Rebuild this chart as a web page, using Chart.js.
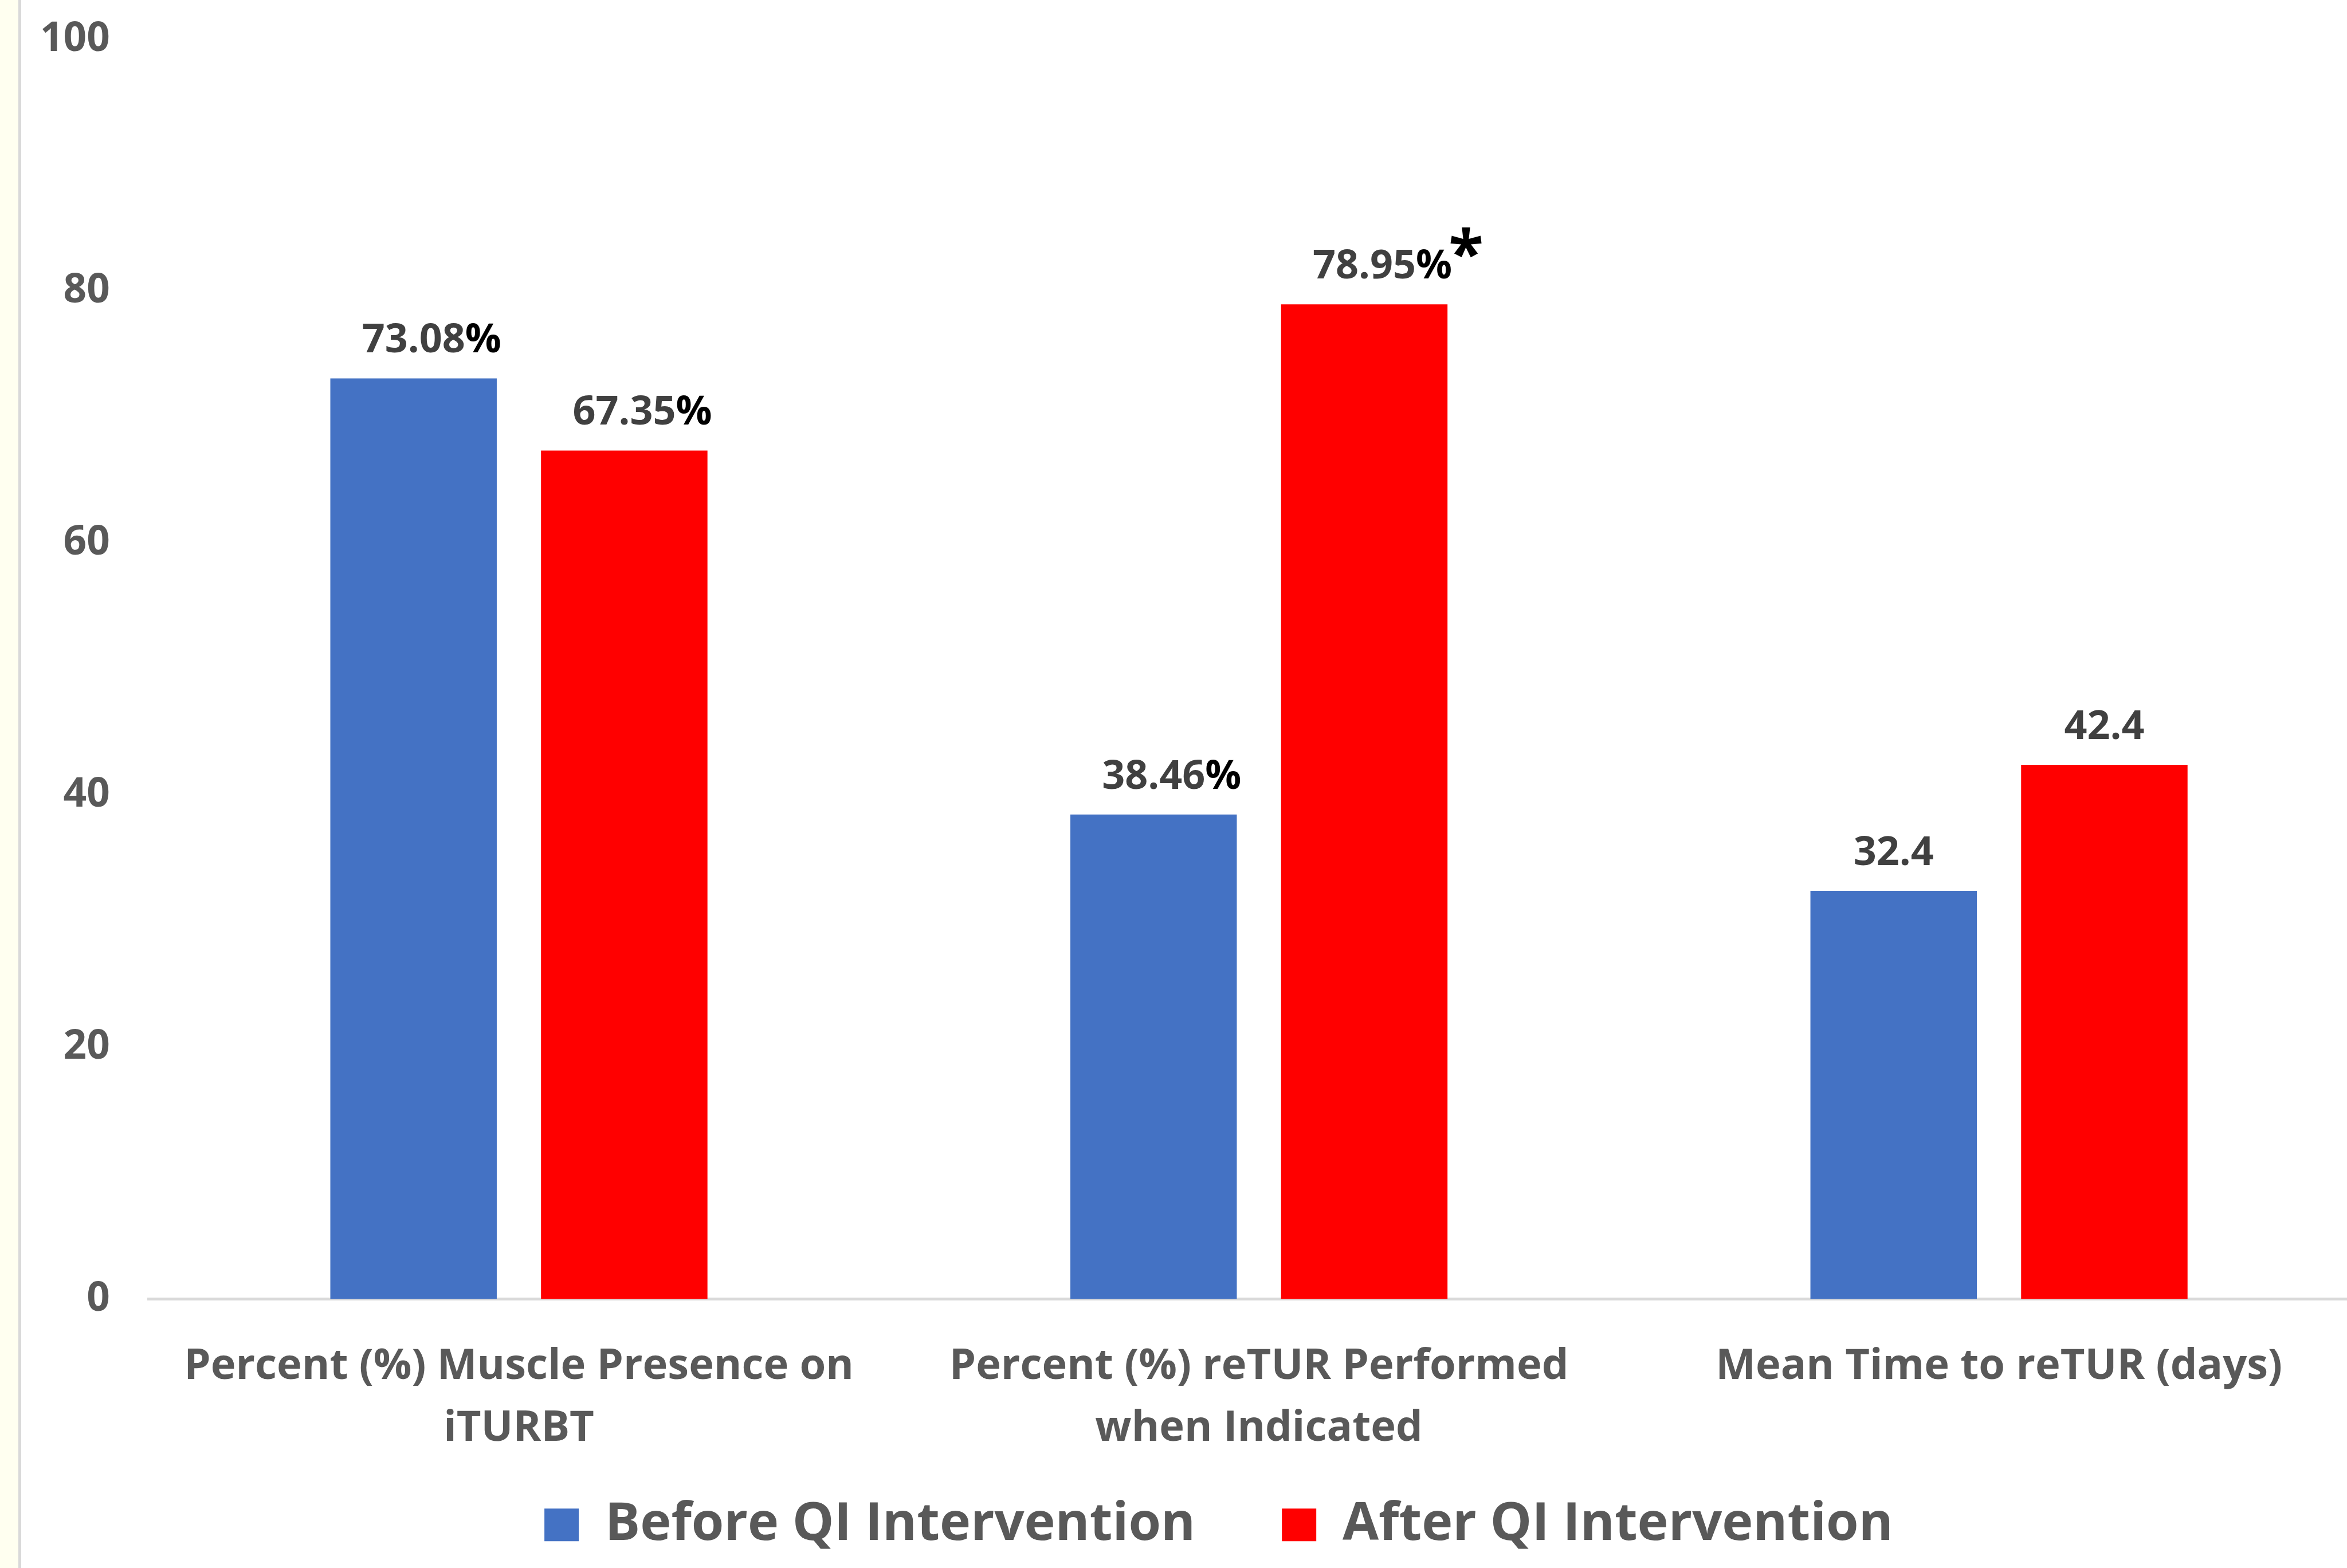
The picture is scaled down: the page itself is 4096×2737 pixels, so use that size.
<!DOCTYPE html>
<html>
<head>
<meta charset="utf-8">
<script src="https://cdn.jsdelivr.net/npm/chart.js@4.4.1/dist/chart.umd.min.js"></script>
<style>
  html, body { margin: 0; padding: 0; background: #ffffff; overflow: hidden; width: 4096px; height: 2737px; }
  #edge { position: absolute; left: 0; top: 0; width: 32px; height: 2737px; background: #FFFFF0; border-right: 5px solid #D9D9D9; }
  #wrap { position: absolute; left: 0; top: 0; }
</style>
</head>
<body>
<div id="edge"></div>
<div id="wrap"><canvas id="chart" width="4135" height="2737"></canvas></div>
<script>
// Categories (multi-line axis labels)
const categories = [
  ['Percent (%) Muscle Presence on', 'iTURBT'],
  ['Percent (%) reTUR Performed', 'when Indicated'],
  'Mean Time to reTUR (days)'
];
const seriesNames = ['Before QI Intervention', 'After QI Intervention'];
const beforeValues = [73.08, 38.46, 32.4];
const afterValues = [67.35, 78.95, 42.4];
// unit appended to each category's value label
const valueUnits = ['%', '%', ''];
// significance markers after a value label
const beforeMarks = ['', '', ''];
const afterMarks = ['', '*', ''];
const yTicks = [0, 20, 40, 60, 80, 100];

const FONT = '"Open Sans", "Noto Sans", sans-serif';

// value labels above each bar: number centred on the bar, unit and marker after it
const valueLabels = {
  id: 'valueLabels',
  afterDatasetsDraw(chart) {
    const ctx = chart.ctx;
    chart.data.datasets.forEach((ds, di) => {
      const meta = chart.getDatasetMeta(di);
      meta.data.forEach((bar, i) => {
        const num = String(ds.data[i]);
        const unit = valueUnits[i];
        const mark = ds.marks[i];
        ctx.save();
        ctx.font = 'bold 70px ' + FONT;
        ctx.textBaseline = 'middle';
        const w = ctx.measureText(num).width;
        const y = bar.y - 65;
        ctx.fillStyle = '#404040';
        ctx.textAlign = 'center';
        ctx.fillText(num, bar.x, y);
        ctx.textAlign = 'left';
        ctx.fillStyle = '#000000';
        ctx.fillText(unit, bar.x + w / 2, y);
        if (mark) {
          const uw = ctx.measureText(unit).width;
          ctx.font = 'bold 112px ' + FONT;
          ctx.textBaseline = 'alphabetic';
          ctx.fillText(mark, bar.x + w / 2 + uw - 6, bar.y - 49);
        }
        ctx.restore();
      });
    });
  }
};

// let tick labels overflow their axis boxes instead of being clipped
const unclippedTicks = {
  id: 'unclippedTicks',
  beforeDraw(chart) {
    Object.values(chart.scales).forEach(s => { s._computeLabelArea = () => undefined; });
  }
};

function draw() {
  const ctx = document.getElementById('chart').getContext('2d');
  new Chart(ctx, {
    type: 'bar',
    data: {
      labels: categories,
      datasets: [
        { label: seriesNames[0], data: beforeValues, backgroundColor: '#4472C4', borderWidth: 0, marks: beforeMarks },
        { label: seriesNames[1], data: afterValues, backgroundColor: '#FF0000', borderWidth: 0, marks: afterMarks }
      ]
    },
    options: {
      responsive: false,
      animation: false,
      layout: { padding: { left: 119.6, right: 0.6, top: 68.4, bottom: 19.5 } },
      datasets: { bar: { categoryPercentage: 0.5694, barPercentage: 0.79 } },
      scales: {
        x: {
          grid: { display: false, drawTicks: false },
          border: { display: true, color: '#D9D9D9', width: 5 },
          ticks: {
            color: '#595959',
            font: { family: FONT, weight: 'bold', size: 74, lineHeight: 1.45 },
            padding: 65, maxRotation: 0, minRotation: 0, autoSkip: false
          },
          afterFit: s => { s.height = 197.5; s.paddingLeft = 0; s.paddingRight = 0; }
        },
        y: {
          min: yTicks[0], max: yTicks[yTicks.length - 1],
          grid: { display: false, drawTicks: false },
          border: { display: false },
          ticks: {
            stepSize: yTicks[1] - yTicks[0],
            color: '#595959',
            font: { family: FONT, weight: 'bold', size: 71 },
            padding: 68
          },
          afterFit: s => { s.width = 140.2; s.paddingTop = 0; s.paddingBottom = 0; }
        }
      },
      plugins: {
        legend: {
          position: 'bottom',
          labels: {
            boxWidth: 60, boxHeight: 57, padding: 151,
            color: '#595959',
            font: { family: FONT, weight: 'bold', size: 91.5 }
          }
        },
        tooltip: { enabled: false }
      }
    },
    plugins: [valueLabels, unclippedTicks]
  });
}

if (document.fonts && document.fonts.load) {
  document.fonts.load('bold 70px "Open Sans"').then(draw, draw);
} else {
  draw();
}
</script>
</body>
</html>
